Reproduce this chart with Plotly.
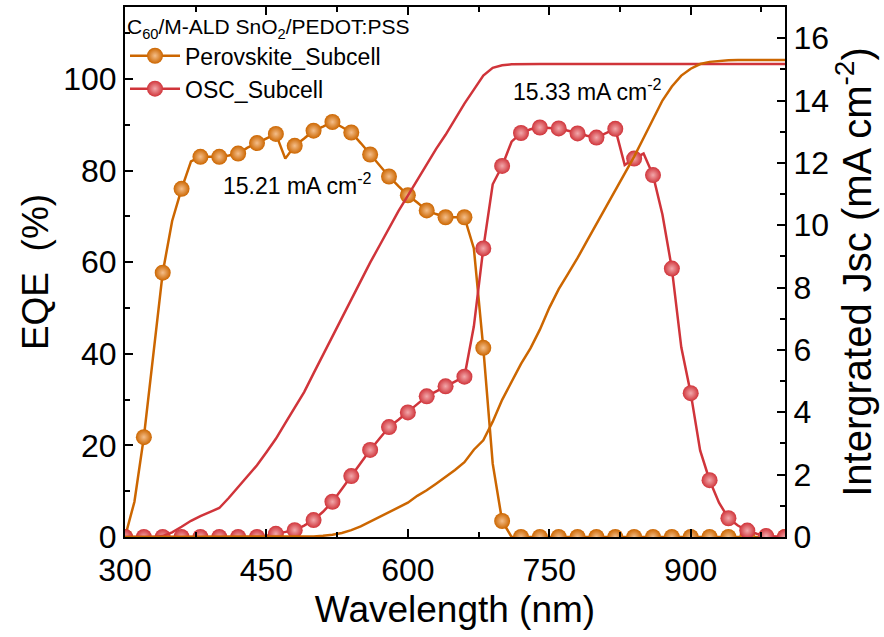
import plotly.graph_objects as go

# ---------------- data ----------------
wavelength = list(range(300, 1001, 10))

eqe_perovskite = [
    0, 7.7, 21.8, 40, 57.7, 69, 76, 82, 83, 83,
    83, 83.3, 83.7, 85, 86, 87, 88, 82.6, 85.4, 87,
    88.7, 89.6, 90.6, 89.5, 88.3, 86, 83.5, 81, 78.7, 76.6,
    74.6, 73, 71.3, 70.5, 69.8, 69.8, 69.8, 63, 41.3, 16,
    3.5, 0, 0, 0, 0, 0, 0, 0, 0, 0,
    0, 0, 0, 0, 0, 0, 0, 0, 0, 0,
    0, 0, 0, 0, 0, 0, 0, 0, 0, 0,
    0,
]

eqe_osc = [
    0, 0, 0, 0, 0, 0, 0, 0, 0, 0,
    0, 0, 0, 0, 0, 0.3, 0.7, 1.1, 1.5, 2.5,
    3.7, 5.5, 7.7, 10.5, 13.3, 16.2, 19, 21.5, 24, 25.6,
    27.2, 29, 30.7, 31.8, 32.9, 34, 35, 46, 63, 77,
    81, 86.3, 88.2, 89, 89.4, 89.3, 89.2, 88.7, 88.1, 87.6,
    87.2, 88.2, 89.1, 81.2, 82.6, 83.7, 79, 70.4, 58.6, 41.4,
    31.4, 18.9, 12.4, 7.5, 4.1, 2.5, 1.4, 0.7, 0.2, 0.1,
    0,
]

# integrated Jsc curves (right axis)
jsc_red = [
    0, 0, 0, 0, 0.03, 0.15, 0.33, 0.52, 0.67, 0.8,
    0.93, 1.25, 1.6, 1.92, 2.3, 2.72, 3.15, 3.65, 4.15, 4.65,
    5.25, 5.85, 6.45, 7.05, 7.65, 8.25, 8.8, 9.35, 9.9, 10.45,
    10.95, 11.45, 11.95, 12.45, 12.9, 13.4, 13.9, 14.35, 14.8, 15.05,
    15.13, 15.16, 15.17, 15.17, 15.17, 15.17, 15.17, 15.17, 15.17, 15.17,
    15.17, 15.17, 15.17, 15.17, 15.17, 15.17, 15.17, 15.17, 15.17, 15.17,
    15.17, 15.17, 15.17, 15.17, 15.17, 15.17, 15.17, 15.17, 15.17, 15.17,
    15.17,
]

jsc_orange = [
    0, 0, 0, 0, 0, 0, 0, 0, 0, 0,
    0, 0, 0, 0, 0, 0, 0, 0, 0, 0.01,
    0.02, 0.04, 0.07, 0.13, 0.22, 0.34, 0.49, 0.64, 0.8, 0.95,
    1.1, 1.32, 1.5, 1.71, 1.93, 2.15, 2.4, 2.8, 3.1, 3.7,
    4.4, 5.0, 5.55, 6.05, 6.65, 7.35, 7.95, 8.45, 8.95, 9.5,
    10.05, 10.6, 11.1, 11.65, 12.2, 12.8, 13.4, 14.0, 14.45, 14.8,
    15.02, 15.17, 15.24, 15.27, 15.29, 15.3, 15.3, 15.3, 15.3, 15.3,
    15.3,
]

series_names = ["Perovskite_Subcell", "OSC_Subcell"]
legend_title = "C<sub>60</sub>/M-ALD SnO<sub>2</sub>/PEDOT:PSS"
jsc_labels = ["15.21 mA cm<sup>-2</sup>", "15.33 mA cm<sup>-2</sup>"]
jsc_label_pos = [(483, 77), (790, 97.5)]  # (wavelength, EQE) anchor of text

# ---------------- styling ----------------
ORANGE = "#CC6600"
RED = "#D0343A"
FONT = "Liberation Sans, Arial, sans-serif"
MARKER_STEP = 20
CLEAR = "rgba(0,0,0,0)"


def marker_style(color, highlight):
    show = [w % MARKER_STEP == 0 for w in wavelength]
    return dict(
        size=16,
        color=[color if s else CLEAR for s in show],
        gradient=dict(type="radial", color=[highlight if s else CLEAR for s in show]),
        line=dict(width=0),
    )


fig = go.Figure()

fig.add_trace(go.Scatter(
    x=wavelength, y=eqe_perovskite, name=series_names[0],
    mode="lines+markers", line=dict(color=ORANGE, width=2.5),
    marker=marker_style(ORANGE, "#F4BE8A"),
))
fig.add_trace(go.Scatter(
    x=wavelength, y=eqe_osc, name=series_names[1],
    mode="lines+markers", line=dict(color=RED, width=2.5),
    marker=marker_style(RED, "#F2A8AB"),
))
fig.add_trace(go.Scatter(
    x=wavelength, y=jsc_red, yaxis="y2", mode="lines",
    line=dict(color=RED, width=2.5), showlegend=False,
))
fig.add_trace(go.Scatter(
    x=wavelength, y=jsc_orange, yaxis="y2", mode="lines",
    line=dict(color=ORANGE, width=2.5), showlegend=False,
))

for txt, (xv, yv) in zip(jsc_labels, jsc_label_pos):
    fig.add_annotation(x=xv, y=yv, xref="x", yref="y", text=txt, showarrow=False,
                       font=dict(family=FONT, size=23, color="black"))

axis_common = dict(
    showline=True, linecolor="black", linewidth=2,
    ticks="inside", ticklen=8, tickwidth=2, tickcolor="black",
    showgrid=False, zeroline=False,
    tickfont=dict(family=FONT, size=32, color="black"),
)

fig.update_layout(
    width=884, height=637,
    margin=dict(l=125, r=99, t=5, b=100),
    paper_bgcolor="white", plot_bgcolor="white",
    font=dict(family=FONT, color="black"),
    xaxis=dict(
        range=[300, 1000], tick0=300, dtick=150, mirror="ticks",
        ticklabelstandoff=4,
        minor=dict(ticks="inside", ticklen=5, tickwidth=2, dtick=75, tickcolor="black"),
        title=dict(text="Wavelength (nm)", font=dict(family=FONT, size=37), standoff=9),
        **axis_common,
    ),
    yaxis=dict(
        range=[0, 115.7], tick0=0, dtick=20,
        minor=dict(ticks="inside", ticklen=5, tickwidth=2, dtick=10, tickcolor="black"),
        title=dict(text="EQE\u00a0\u00a0(%)", font=dict(family=FONT, size=37), standoff=3),
        **axis_common,
    ),
    yaxis2=dict(
        range=[0, 17], tick0=0, dtick=2, overlaying="y", side="right",
        minor=dict(ticks="inside", ticklen=5, tickwidth=2, dtick=1, tickcolor="black"),
        title=dict(text="Intergrated Jsc (mA cm<sup>-2</sup>)", font=dict(family=FONT, size=40), standoff=10),
        **axis_common,
    ),
    legend=dict(
        x=0.0, y=1.0, xanchor="left", yanchor="top",
        bgcolor=CLEAR, borderwidth=0,
        font=dict(family=FONT, size=23, color="black"),
        title=dict(text=legend_title, font=dict(family=FONT, size=21, color="black")),
        itemwidth=50, tracegroupgap=0,
    ),
)

fig.write_html("out.html")
